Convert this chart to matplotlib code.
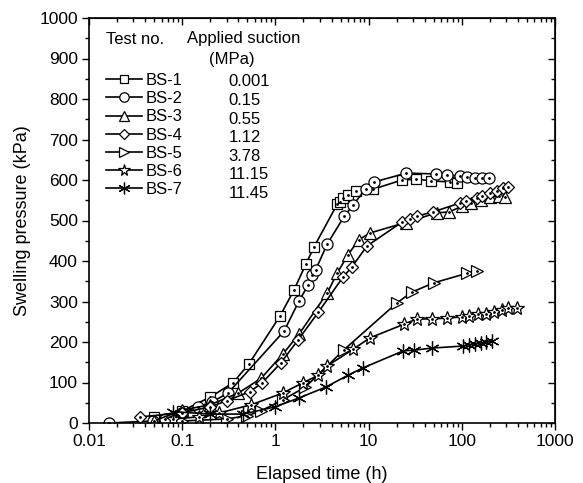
import matplotlib
matplotlib.use("Agg")
import matplotlib.pyplot as plt
from matplotlib.ticker import FixedLocator, FixedFormatter, LogLocator, NullFormatter, MultipleLocator

plt.rcParams['font.family'] = ['Liberation Sans', 'DejaVu Sans']

# elapsed time (h) / swelling pressure (kPa)
bs1_t = [0.05, 0.1, 0.2, 0.35, 0.52, 1.12, 1.58, 2.13, 2.6, 4.6, 4.93, 5.3, 6.0, 7.3, 11.1, 22.8, 32.5, 47, 74, 89]
bs1_p = [15, 30, 64, 99, 146, 264, 328, 393, 435, 540, 546, 555, 563, 573, 577, 600, 602, 598, 595, 593]

bs2_t = [0.0164, 0.049, 0.065, 0.1, 0.147, 0.21, 0.31, 1.24, 1.79, 2.25, 2.5, 2.7, 3.6, 5.5, 6.8, 9.3, 11.4, 25.5, 53, 69, 95, 115, 140, 165, 196]
bs2_p = [0, 5, 10, 25, 40, 52, 74, 227, 301, 341, 365, 378, 442, 511, 538, 578, 595, 617, 615, 612, 610, 607, 605, 605, 605]

bs3_t = [0.05, 0.1, 0.2, 0.4, 0.7, 1.2, 1.8, 3.6, 4.6, 6.0, 7.8, 10.3, 25, 54, 73, 100, 124, 160, 200, 250, 290]
bs3_p = [5, 32, 45, 74, 110, 170, 220, 321, 370, 415, 452, 469, 495, 519, 521, 535, 543, 550, 558, 560, 558]

bs4_t = [0.035, 0.1, 0.2, 0.3, 0.53, 0.72, 1.14, 1.75, 2.9, 5.3, 6.6, 9.6, 22.8, 28, 33, 49, 95, 110, 145, 165, 200, 240, 280, 310]
bs4_p = [15, 25, 40, 55, 77, 99, 148, 205, 274, 360, 385, 437, 496, 504, 511, 521, 543, 548, 555, 560, 568, 573, 580, 583]

bs5_t = [0.1, 0.3, 0.5, 0.7, 1.2, 2.1, 5.4, 20, 29, 50, 115, 145]
bs5_p = [5, 10, 18, 30, 57, 89, 180, 296, 323, 346, 370, 375]

bs6_t = [0.08, 0.15, 0.25, 0.55, 1.2, 2.0, 2.9, 3.6, 6.8, 10.3, 24, 33, 48, 69, 100, 120, 150, 180, 220, 270, 310, 390]
bs6_p = [10, 15, 25, 45, 74, 100, 118, 141, 182, 210, 244, 257, 257, 259, 262, 264, 268, 270, 275, 280, 285, 284]

bs7_t = [0.08, 0.2, 0.45, 1.0, 1.8, 3.5, 6.0, 8.7, 23.5, 31, 48, 102, 120, 140, 160, 180, 210]
bs7_p = [28, 22, 22, 40, 62, 89, 118, 136, 178, 180, 185, 190, 193, 196, 198, 200, 202]

tests = ['BS-1', 'BS-2', 'BS-3', 'BS-4', 'BS-5', 'BS-6', 'BS-7']
suction = ['0.001', '0.15', '0.55', '1.12', '3.78', '11.15', '11.45']
markers = ['s', 'o', '^', 'D', '>', '*', 'x']
sizes = [7, 8, 8, 6, 8, 10, 10]
series = [(bs1_t, bs1_p), (bs2_t, bs2_p), (bs3_t, bs3_p), (bs4_t, bs4_p),
          (bs5_t, bs5_p), (bs6_t, bs6_p), (bs7_t, bs7_p)]

fig = plt.figure(figsize=(5.83, 4.83), dpi=100)
ax = fig.add_axes([89 / 583, 1 - 423 / 483, (555 - 89) / 583, (423 - 18) / 483])

handles = []
for (t, p), m, s, name in zip(series, markers, sizes, tests):
    if m == 'x':
        # asterisk: six-armed star
        h, = ax.plot(t, p, color='black', lw=1.2, marker=(6, 2, 0), ms=s,
                     mec='black', mew=0.9, label=name)
    else:
        h, = ax.plot(t, p, color='black', lw=1.2, marker=m, ms=s,
                     mfc='white', mec='black', mew=0.9, label=name)
        ax.plot(t, p, ls='none', marker='o', ms=1, color='black')
    handles.append(h)

ax.set_xscale('log')
ax.set_xlim(0.01, 1000)
ax.set_ylim(0, 1000)
ax.xaxis.set_major_locator(FixedLocator([0.01, 0.1, 1, 10, 100, 1000]))
ax.xaxis.set_major_formatter(FixedFormatter(['0.01', '0.1', '1', '10', '100', '1000']))
ax.xaxis.set_minor_locator(LogLocator(base=10, subs=range(2, 10)))
ax.xaxis.set_minor_formatter(NullFormatter())
ax.yaxis.set_major_locator(MultipleLocator(100))
ax.yaxis.set_minor_locator(MultipleLocator(50))

ax.tick_params(which='major', direction='out', length=5, width=1, labelsize=12.5, pad=3)
ax.tick_params(which='minor', direction='out', length=3, width=1)
for sp in ax.spines.values():
    sp.set_linewidth(1.2)

top = ax.secondary_xaxis('top')
top.tick_params(which='major', direction='in', length=5, width=1, labeltop=False)
top.tick_params(which='minor', direction='in', length=3, width=1)
top.xaxis.set_major_locator(FixedLocator([0.01, 0.1, 1, 10, 100, 1000]))
top.xaxis.set_minor_locator(LogLocator(base=10, subs=range(2, 10)))
top.xaxis.set_major_formatter(NullFormatter())
top.xaxis.set_minor_formatter(NullFormatter())
right = ax.secondary_yaxis('right')
right.tick_params(which='major', direction='in', length=5, width=1, labelright=False)
right.tick_params(which='minor', direction='in', length=3, width=1)
right.yaxis.set_major_locator(MultipleLocator(100))
right.yaxis.set_minor_locator(MultipleLocator(50))
right.yaxis.set_major_formatter(NullFormatter())

ax.set_xlabel('Elapsed time (h)', fontsize=13, labelpad=12)
ax.set_ylabel('Swelling pressure (kPa)', fontsize=13, labelpad=6)

leg = ax.legend(handles=handles, loc='upper left', bbox_to_anchor=(0.036, 0.864),
                frameon=False, fontsize=12, handlelength=2.2, handletextpad=0.2,
                labelspacing=0.19, borderaxespad=0, borderpad=0, markerscale=0.85)

ax.text(0.037, 0.946, 'Test no.', transform=ax.transAxes, fontsize=12, va='center')
ax.text(0.211, 0.95, 'Applied suction', transform=ax.transAxes, fontsize=12, va='center')
ax.text(0.307, 0.898, '(MPa)', transform=ax.transAxes, fontsize=12, va='center', ha='center')
for i, s in enumerate(suction):
    ax.text(0.30, 0.842 - i * 0.0457, s, transform=ax.transAxes, fontsize=12, va='center')

fig.savefig('out.png', dpi=100)
